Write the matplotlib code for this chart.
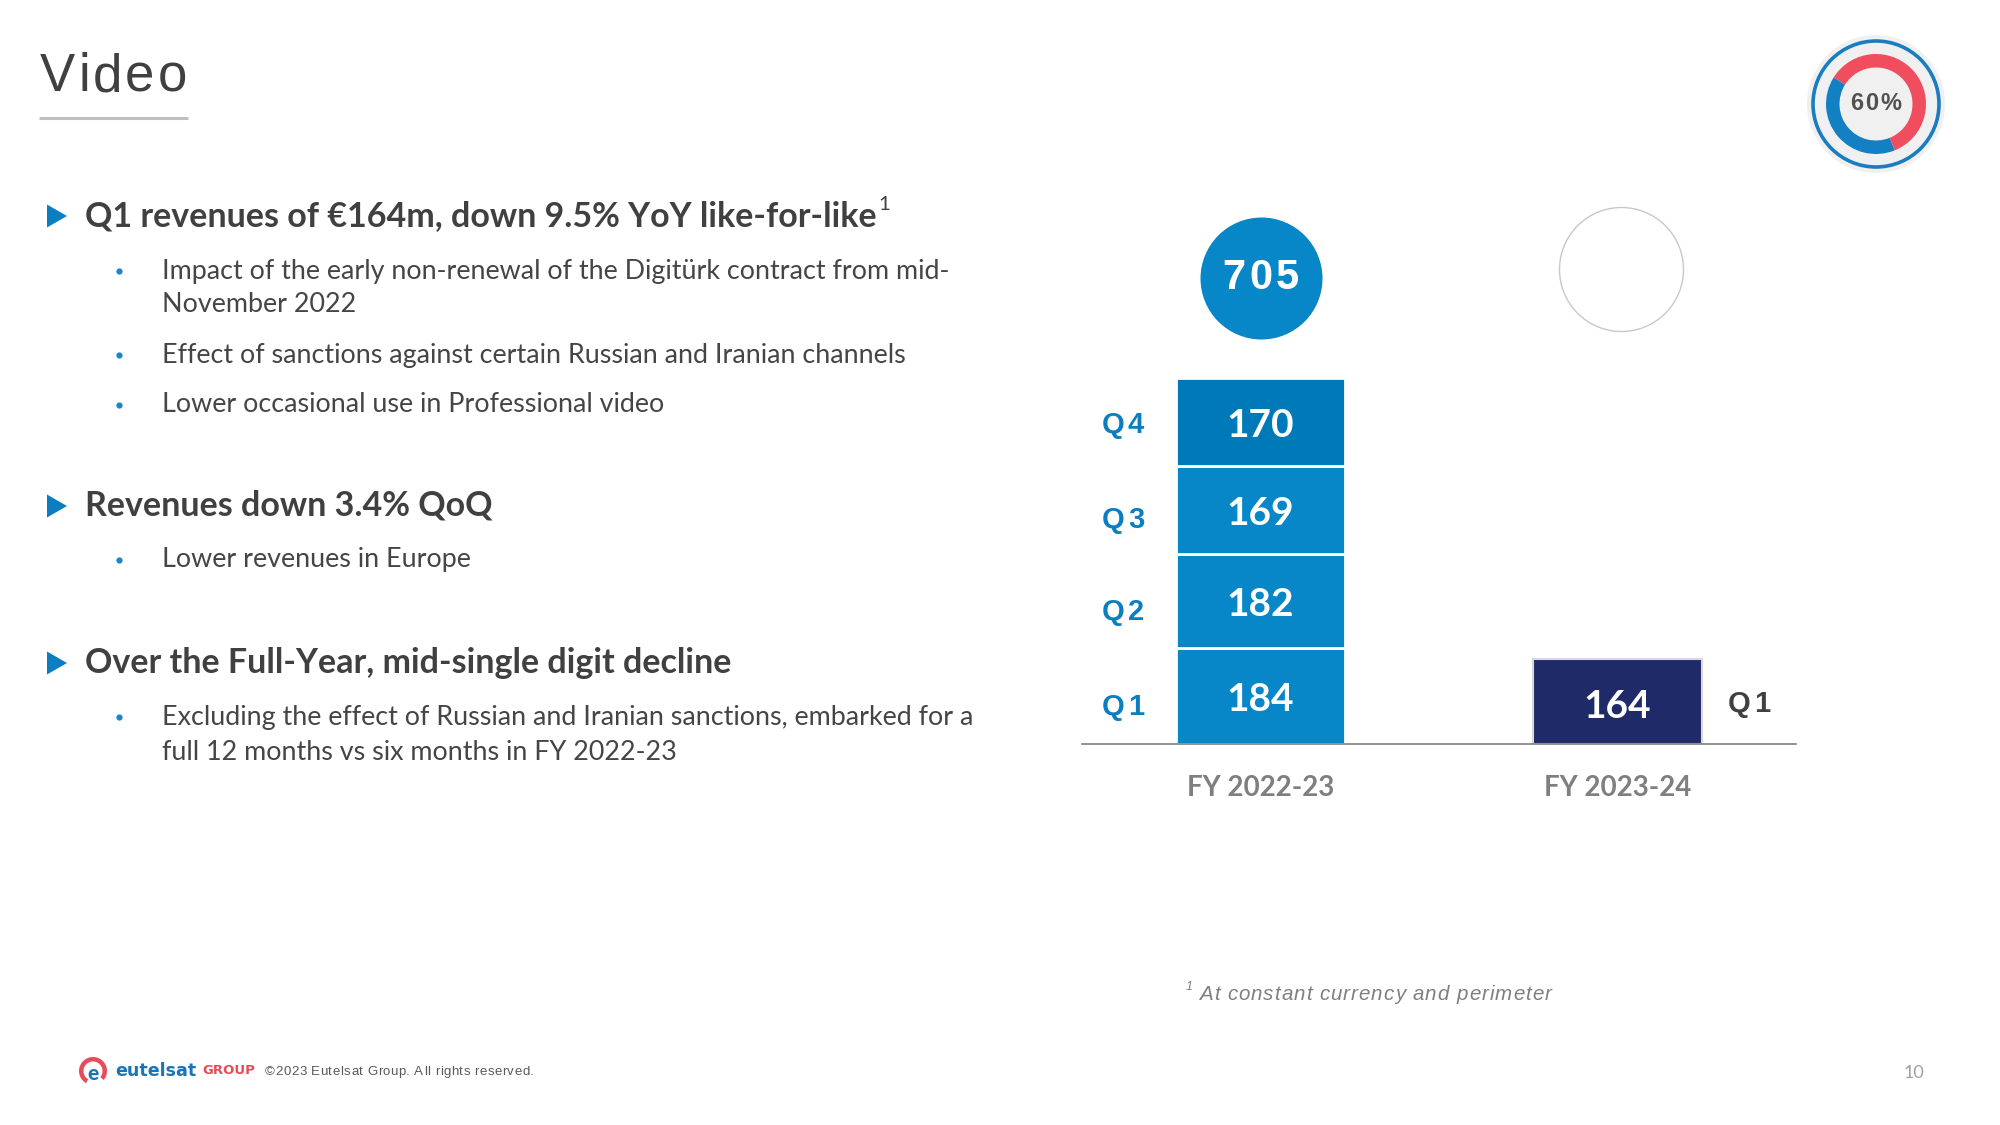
import matplotlib
matplotlib.use("Agg")
import matplotlib.pyplot as plt
from matplotlib.patches import Circle, Polygon, Wedge
from matplotlib.transforms import offset_copy

# ---------------- data ----------------
fy_labels = ["FY 2022-23", "FY 2023-24"]
quarters = ["Q1", "Q2", "Q3", "Q4"]
fy2223_q = [184, 182, 169, 170]
fy2324_q = [164]
fy2324_q_labels = ["Q1"]
video_share = [60, 40]
share_label = "60%"

title = "Video"
headings = [
    "Q1 revenues of €164m, down 9.5% YoY like-for-like",
    "Revenues down 3.4% QoQ",
    "Over the Full-Year, mid-single digit decline",
]
sub_bullets = [
    [["Impact of the early non-renewal of the Digitürk contract from mid-", "November 2022"],
     ["Effect of sanctions against certain Russian and Iranian channels"],
     ["Lower occasional use in Professional video"]],
    [["Lower revenues in Europe"]],
    [["Excluding the effect of Russian and Iranian sanctions, embarked for a",
      "full 12 months vs six months in FY 2022-23"]],
]
footnote = "At constant currency and perimeter"
copyright_txt = "©2023 Eutelsat Group. All rights reserved."
page_no = "10"

# ---------------- style ----------------
NARROW = ["Liberation Sans Narrow", "Liberation Sans", "DejaVu Sans"]
BODY = ["Lato", "DejaVu Sans"]
DARK = "#404040"
BLUE = "#0A7EC0"
SEG_COLORS = ["#0787C7", "#0787C7", "#0787C7", "#0079B8"]
NAVY = "#1F2A68"

fig = plt.figure(figsize=(20, 11.25), dpi=100)
fig.patch.set_facecolor("white")
R = fig.canvas.get_renderer()

bg = fig.add_axes([0, 0, 1, 1])
bg.set_xlim(0, 2000)
bg.set_ylim(1125, 0)
bg.axis("off")


def text_width(txt, **kw):
    t = fig.text(0, 0, txt, **kw)
    w = t.get_window_extent(R).width
    t.remove()
    return w


def spaced_text(x, y, s, gap, transform, ha="center", va="center", **kw):
    ws = []
    for ch in s:
        if ch == " ":
            ws.append(text_width("x x", **kw) - text_width("xx", **kw))
        else:
            ws.append(text_width(ch, **kw))
    total = sum(ws) + gap * (len(s) - 1)
    off = {"left": 0, "center": -total / 2, "right": -total}[ha]
    for ch, cw in zip(s, ws):
        if ch != " ":
            fig.text(x, y, ch, transform=offset_copy(transform, fig=fig, x=off, y=0, units="dots"),
                     ha="left", va=va, **kw)
        off += cw + gap
    return total


# ---------------- title ----------------
spaced_text(40, 77, title, 3, bg.transData, ha="left", va="center",
            family=NARROW, size=38, color=DARK)
bg.plot([39, 188], [118, 118], color="#BFBFBF", lw=2.2, solid_capstyle="butt")

# ---------------- left bullets ----------------
head_size = 20 * 791 / text_width(headings[0], family=BODY, weight="bold", size=20)
sub_size = 20 * 746 / text_width(sub_bullets[0][1][0], family=BODY, size=20)

head_y = [216, 506, 663]
sub_y = [[[271, 305], [355], [405]], [[560]], [[717, 752]]]
for hi, h in enumerate(headings):
    y = head_y[hi]
    bg.add_patch(Polygon([[47, y - 11.5], [47, y + 11.5], [67, y]], closed=True,
                         facecolor=BLUE, edgecolor="none"))
    t = bg.text(85, y, h, family=BODY, weight="bold", size=head_size, color=DARK,
                ha="left", va="center")
    if hi == 0:
        w = t.get_window_extent(R).width
        bg.text(85 + w + 2, y - 12, "1", family=BODY, size=head_size * 0.6, color=DARK,
                ha="left", va="center")
    for bi, lines in enumerate(sub_bullets[hi]):
        ys = sub_y[hi][bi]
        bg.plot([119], [ys[0]], marker="o", ms=4.5, color="#1A86C8", mec="none")
        for line, ly in zip(lines, ys):
            bg.text(162, ly, line, family=BODY, size=sub_size, color="#454545",
                    ha="left", va="center")

# ---------------- bar chart ----------------
ax = fig.add_axes([1082 / 2000, (1125 - 744) / 1125, (1796 - 1082) / 2000, 594 / 1125])
ax.set_facecolor("none")
ax.set_xlim(-0.5, 1.5)
ax.set_ylim(0, 1144)
bar_w = 0.476
q_label_dy = [-20, -20, -20, -6]

bottom = 0
for i, (q, v) in enumerate(zip(quarters, fy2223_q)):
    ax.bar(0, v, bottom=bottom, width=bar_w, color=SEG_COLORS[i], edgecolor="white", linewidth=2)
    ax.text(0, bottom + v / 2 - 6, str(v), family=BODY, weight="bold", size=28, color="white",
            ha="center", va="center")
    spaced_text(-0.385, bottom + v / 2 + q_label_dy[i], q, 3, ax.transData, ha="center",
                va="center", family=NARROW, weight="bold", size=21, color=BLUE)
    bottom += v
total = sum(fy2223_q)

b2 = 0
for q, v in zip(fy2324_q_labels, fy2324_q):
    ax.bar(1, v, bottom=b2, width=bar_w, color=NAVY, edgecolor="#D9D9D9", linewidth=1.5)
    ax.text(1, b2 + v / 2 - 9, str(v), family=BODY, weight="bold", size=28, color="white",
            ha="center", va="center")
    spaced_text(1.368, b2 + v / 2 - 4, q, 3, ax.transData, ha="center", va="center",
                family=NARROW, weight="bold", size=21, color=DARK)
    b2 += v

# total bubble
ax.scatter([0], [total + 193], s=(122 * 0.72) ** 2, color="#0787C7", zorder=3,
           clip_on=False, linewidths=0)
spaced_text(0, total + 193, str(total), 4, ax.transData, ha="center", va="center",
            family=NARROW, weight="bold", size=30, color="white")
# empty bubble for the current year
ax.scatter([1.01], [915], s=(124 * 0.72) ** 2, facecolor="white", edgecolor="#C8C8C8",
           linewidths=1, zorder=3, clip_on=False)

ax.set_xticks([0, 1])
ax.set_xticklabels(fy_labels, family=BODY, weight="bold", size=20, color="#7F7F7F")
ax.tick_params(axis="x", length=0, pad=22)
ax.set_yticks([])
for s in ["left", "right", "top"]:
    ax.spines[s].set_visible(False)
ax.spines["bottom"].set_color("#7F7F7F")
ax.spines["bottom"].set_linewidth(1.2)

# ---------------- donut ----------------
cx, cy, half = 1876, 104, 70
ax_d = fig.add_axes([(cx - half) / 2000, (1125 - cy - half) / 1125, 2 * half / 2000, 2 * half / 1125])
ax_d.add_patch(Circle((0, 0), 1.38, facecolor="#F0F0F0", edgecolor="none", zorder=0))
ax_d.add_patch(Circle((0, 0), 1.26, fill=False, edgecolor="#1A7DC0", linewidth=2.6, zorder=1))
ax_d.pie(video_share, colors=["#F04E5E", "#1380C3"], startangle=148, counterclock=False,
         radius=1.0, wedgeprops=dict(width=0.27, edgecolor="none"))
ax_d.set_xlim(-1.4, 1.4)
ax_d.set_ylim(-1.4, 1.4)
ax_d.set_aspect("equal")
ax_d.axis("off")
spaced_text(0, 0, share_label, 2, ax_d.transData, ha="center", va="center",
            family=NARROW, weight="bold", size=17, color="#505050")

# ---------------- footnote / footer ----------------
bg.text(1186, 987, "1", family=NARROW, style="italic", size=9, color="#7F7F7F",
        ha="left", va="center")
spaced_text(1199, 994, footnote, 1, bg.transData, ha="left", va="center",
            family=NARROW, style="italic", size=14.8, color="#7F7F7F")

bg.add_patch(Wedge((93, 1071), 14, 120, 400, width=4.5, facecolor="#E84C5A", edgecolor="none"))
bg.text(93, 1073, "e", family=BODY, weight="black", size=15, color="#1A75B8",
        ha="center", va="center")
eu_size = 12 * 81 / text_width("eutelsat", family="DejaVu Sans", weight="bold", size=12)
gr_size = 12 * 53 / text_width("GROUP", family="DejaVu Sans", weight="bold", size=12)
bg.text(115, 1071, "eutelsat", family="DejaVu Sans", weight="bold", size=eu_size,
        color="#1A75B8", ha="left", va="center")
bg.text(202, 1071, "GROUP", family="DejaVu Sans", weight="bold", size=gr_size,
        color="#E84C5A", ha="left", va="center")
spaced_text(265, 1072, copyright_txt, 0.5, bg.transData, ha="left", va="center",
            family=NARROW, size=9.5, color="#595959")
bg.text(1914, 1073, page_no, family=BODY, size=13, color="#A0A0A0", ha="center", va="center")

fig.savefig("out.png", dpi=100)
